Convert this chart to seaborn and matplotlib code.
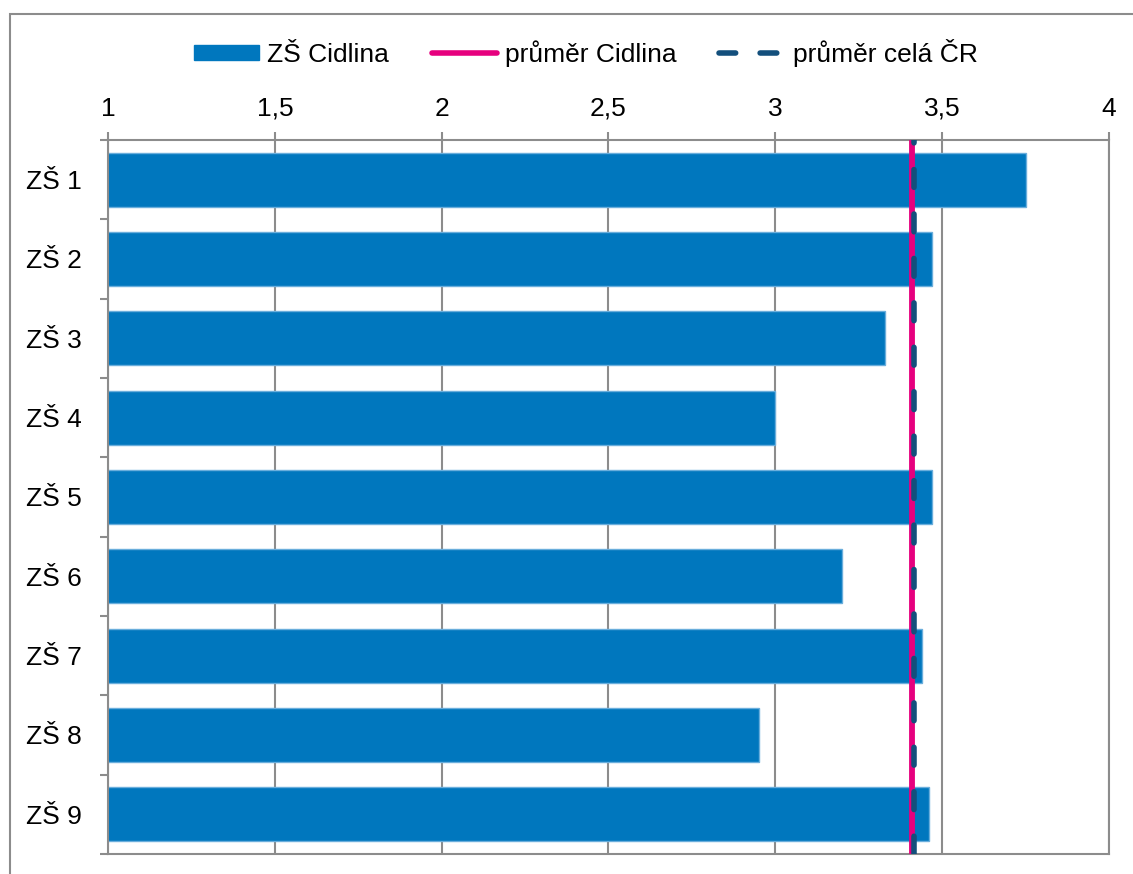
import pandas as pd
import numpy as np
import seaborn as sns
import matplotlib.pyplot as plt
from matplotlib.lines import Line2D
from matplotlib.patches import Patch, Rectangle
from matplotlib.ticker import FuncFormatter, FixedLocator

# Data
skoly = ["ZŠ 1", "ZŠ 2", "ZŠ 3", "ZŠ 4", "ZŠ 5", "ZŠ 6", "ZŠ 7", "ZŠ 8", "ZŠ 9"]
hodnoty = [3.75, 3.47, 3.33, 3.00, 3.47, 3.20, 3.44, 2.95, 3.46]
prumer_cidlina = 3.41
prumer_cr = 3.415
x_ticks = [1, 1.5, 2, 2.5, 3, 3.5, 4]

df = pd.DataFrame({"skola": skoly, "hodnota": hodnoty})

sns.set_style("white")
plt.rcParams['font.family'] = ['Liberation Sans', 'DejaVu Sans']
plt.rcParams['text.color'] = 'black'
plt.rcParams['xtick.labelcolor'] = 'black'
plt.rcParams['ytick.labelcolor'] = 'black'
fs = 19

modra = "#0077BE"
ruzova = "#E6007E"
tmava = "#134F7C"
seda = "#8C8C8C"

fig = plt.figure(figsize=(11.33, 8.74), dpi=100)
ax = fig.add_axes([108 / 1133, 1 - 854 / 874, (1109 - 108) / 1133, (854 - 140) / 874])

sns.barplot(data=df, x="hodnota", y="skola", orient="h", color=modra,
            saturation=1, width=0.68, edgecolor="#6AAEDC", linewidth=1, ax=ax)

ax.axvline(prumer_cidlina, color=ruzova, lw=4.2, zorder=4)
ax.axvline(prumer_cr, color=tmava, lw=4.0, dashes=(3.2, 4.8),
           dash_capstyle="round", zorder=5)

ax.set_xlim(1, 4)
ax.set_ylim(len(skoly) - 0.5, -0.5)
ax.xaxis.tick_top()
ax.xaxis.set_label_position("top")
ax.set_xticks(x_ticks)
ax.xaxis.set_major_formatter(FuncFormatter(lambda v, p: f"{v:g}".replace(".", ",")))
ax.grid(axis="x", color=seda, lw=1.5, zorder=0)
ax.set_axisbelow(True)
ax.set_xlabel("")
ax.set_ylabel("")

ax.tick_params(axis="x", which="major", direction="out", length=6, width=1.5,
               color=seda, pad=8, labelsize=fs, labelcolor="black")
ax.tick_params(axis="y", which="major", length=0, pad=19, labelsize=fs,
               labelcolor="black")
ax.yaxis.set_minor_locator(FixedLocator(np.arange(-0.5, len(skoly), 1.0)))
ax.tick_params(axis="y", which="minor", direction="out", length=6, width=1.5,
               color=seda, left=True)

for s in ax.spines.values():
    s.set_color(seda)
    s.set_linewidth(1.5)

handles = [
    Patch(facecolor=modra, edgecolor=modra),
    Line2D([], [], color=ruzova, lw=4.0, solid_capstyle="round"),
    Line2D([], [], color=tmava, lw=4.0, dashes=(3.0, 4.4), dash_capstyle="round"),
]
labels = ["ZŠ Cidlina", "průměr Cidlina", "průměr celá ČR"]
leg = fig.legend(handles, labels, loc="center", bbox_to_anchor=(0.517, 1 - 53 / 874),
                 ncol=3, frameon=False, fontsize=fs, handlelength=2.5,
                 handleheight=0.53, handletextpad=0.3, columnspacing=1.6)
for t in leg.get_texts():
    t.set_color("black")

# outer chart border (cropped on right and bottom)
fig.patches.append(Rectangle((10 / 1133, -0.05), 1.2, 1.05 - 14 / 874,
                             transform=fig.transFigure, fill=False,
                             edgecolor=seda, lw=1.5))

fig.savefig("out.png", dpi=100)
